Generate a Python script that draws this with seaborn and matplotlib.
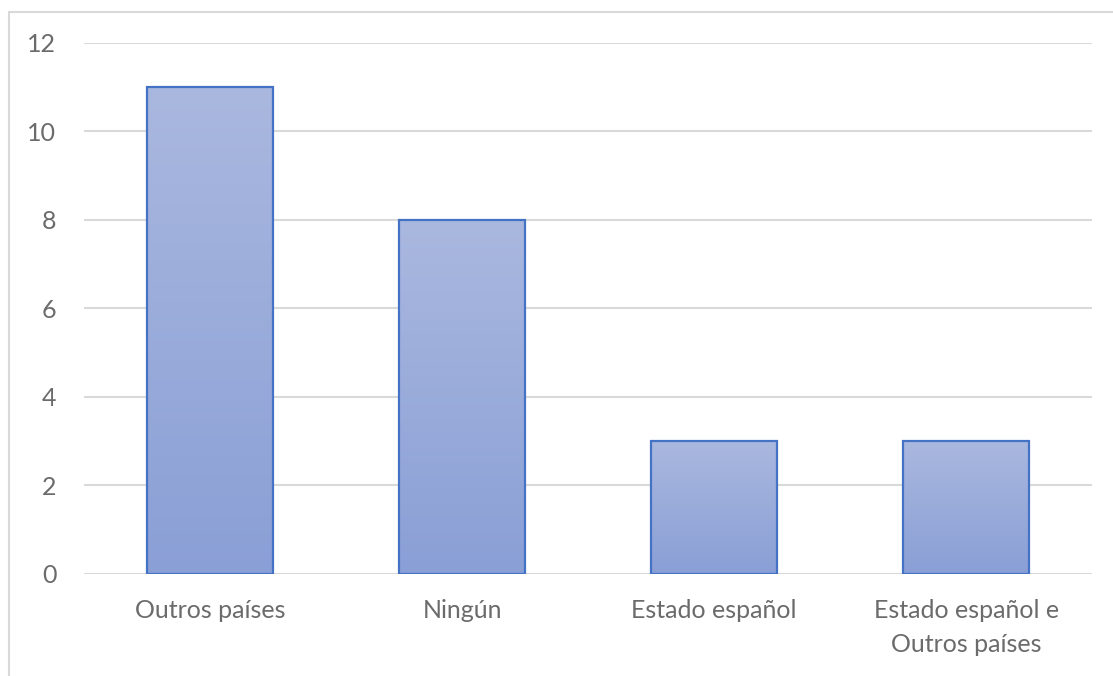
import numpy as np
import pandas as pd
import seaborn as sns
import matplotlib.pyplot as plt
from matplotlib.patches import Rectangle
from matplotlib.colors import LinearSegmentedColormap

categories = ["Outros países", "Ningún", "Estado español", "Estado español e\nOutros países"]
values = [11, 8, 3, 3]
yticks = [0, 2, 4, 6, 8, 10, 12]

df = pd.DataFrame({"Categoría": categories, "Valor": values})

sns.set_style("white")
plt.rcParams['font.family'] = ['Lato', 'DejaVu Sans']

fig = plt.figure(figsize=(11.13, 6.76), dpi=100)
ax = fig.add_axes([0.0755, 0.1509, 0.9057, 0.7855])

sns.barplot(data=df, x="Categoría", y="Valor", ax=ax, width=0.5,
            color="#97abdb", edgecolor="#4472c4", linewidth=1.6, zorder=3)

# vertical gradient inside each bar (light top, darker bottom)
grad = LinearSegmentedColormap.from_list("g", ["#8a9fd6", "#aab8df"])
for p in ax.patches:
    x0, y0 = p.get_x(), p.get_y()
    w, h = p.get_width(), p.get_height()
    im = ax.imshow(np.linspace(0, 1, 256).reshape(-1, 1), cmap=grad, origin="lower",
                   extent=[x0, x0 + w, y0, y0 + h], aspect="auto", zorder=2.5)
    im.set_clip_path(p)
    p.set_facecolor("none")

ax.set_xlim(-0.5, len(categories) - 0.5)
ax.set_ylim(0, 12)
ax.set_yticks(yticks)
ax.yaxis.grid(True, color="#d9d9d9", linewidth=1.5, zorder=0)
ax.set_axisbelow(True)
ax.set_xlabel("")
ax.set_ylabel("")
ax.tick_params(axis="both", length=0, labelsize=18, labelcolor="#6b6b6b")
ax.tick_params(axis="y", pad=20)
ax.tick_params(axis="x", pad=18)
for t in ax.get_xticklabels():
    t.set_linespacing(1.6)
sns.despine(ax=ax, left=True, bottom=True)

# outer chart-area frame
fig.patches.append(Rectangle((9 / 1113, -0.05), 1.1, 1 - 12 / 676 + 0.05,
                             transform=fig.transFigure, fill=False,
                             edgecolor="#d9d9d9", linewidth=1.5))

fig.savefig("out.png", dpi=100)
